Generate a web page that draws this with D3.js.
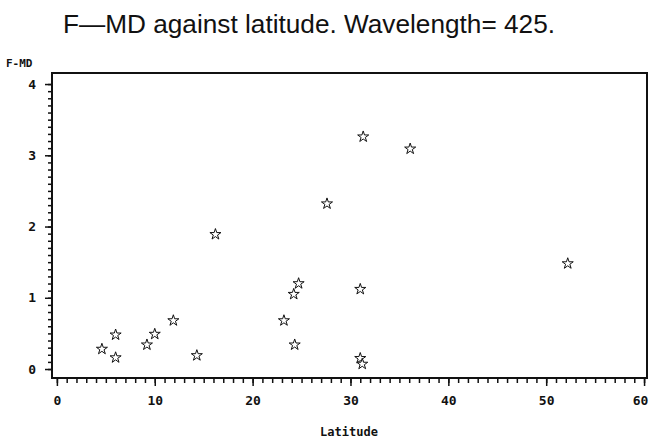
<!DOCTYPE html>
<html>
<head>
<meta charset="utf-8">
<script src="https://cdn.jsdelivr.net/npm/d3@7"></script>
<style>
  body { margin: 0; background: #fff; }
  svg text { fill: #111; }
</style>
</head>
<body>
<svg id="chart"></svg>
<script>
const width = 649;
const height = 438;

// data
const latitude = [4.6, 6.0, 6.0, 9.2, 10.0, 11.9, 14.3, 16.2, 23.2, 24.3, 24.2, 24.7, 27.6, 31.0, 31.0, 31.2, 31.3, 36.1, 52.2];
const fmd      = [0.28, 0.48, 0.16, 0.34, 0.49, 0.68, 0.19, 1.89, 0.68, 0.34, 1.05, 1.20, 2.32, 1.12, 0.15, 0.07, 3.26, 3.09, 1.48];
const xTicks = [0, 10, 20, 30, 40, 50, 60];
const yTicks = [0, 1, 2, 3, 4];

const plotLeft = 52, plotRight = 647, plotTop = 73, plotBottom = 378;

const svg = d3.select('#chart')
            .attr('width', width)
            .attr('height', height);

const x = d3.scaleLinear().domain([-0.5, 60.3]).range([plotLeft, plotRight]);
const y = d3.scaleLinear().domain([-0.126, 4.155]).range([plotBottom, plotTop]);

// title
svg.append('text')
    .attr('x', 309).attr('y', 33)
    .attr('text-anchor', 'middle')
    .attr('textLength', 492)
    .attr('lengthAdjust', 'spacingAndGlyphs')
    .style('font-family', 'Liberation Sans, Arial, sans-serif')
    .style('font-size', '25px')
    .text('F\u2014MD against latitude. Wavelength= 425.');

// frame
svg.append('rect')
    .attr('x', plotLeft).attr('y', plotTop)
    .attr('width', plotRight - plotLeft).attr('height', plotBottom - plotTop)
    .attr('fill', 'none')
    .attr('stroke', '#111')
    .attr('stroke-width', 2);

// minor + major ticks
const xAxis = svg.append('g').attr('transform', `translate(0, ${plotBottom})`);
xAxis.call(d3.axisBottom(x).tickValues(d3.range(0, 61, 1)).tickSize(5).tickFormat(''));
xAxis.append('g').call(d3.axisBottom(x).tickValues(xTicks).tickSize(8).tickPadding(10).tickFormat(d3.format('d')));

const yAxis = svg.append('g').attr('transform', `translate(${plotLeft}, 0)`);
yAxis.call(d3.axisLeft(y).tickValues(d3.range(0, 41).map(d => d / 10)).tickSize(4).tickFormat(''));
yAxis.append('g').call(d3.axisLeft(y).tickValues(yTicks).tickSize(7).tickPadding(9).tickFormat(d3.format('d')));

svg.selectAll('.domain').remove();
svg.selectAll('.tick line').attr('stroke', '#111').attr('stroke-width', 1.5);
svg.selectAll('.tick text')
    .style('font-family', 'DejaVu Sans Mono, monospace')
    .style('font-weight', 'bold')
    .style('font-size', '13px')
    .attr('fill', '#111');

// keep the last x label inside the picture
xAxis.selectAll('.tick text').filter(d => d === 60).attr('dx', '-4');

// axis labels
svg.append('text')
    .attr('x', 6).attr('y', 67)
    .style('font-family', 'DejaVu Sans Mono, monospace')
    .style('font-weight', 'bold')
    .style('font-size', '11px')
    .text('F-MD');

svg.append('text')
    .attr('x', 349).attr('y', 436)
    .attr('text-anchor', 'middle')
    .style('font-family', 'DejaVu Sans Mono, monospace')
    .style('font-weight', 'bold')
    .style('font-size', '12px')
    .text('Latitude');

// points
const star = d3.symbol().type(d3.symbolStar).size(38);
svg.append('g').selectAll('path')
    .data(latitude.map((d, i) => ({lat: d, v: fmd[i]})))
    .join('path')
    .attr('d', star)
    .attr('transform', d => `translate(${x(d.lat)}, ${y(d.v)})`)
    .attr('fill', 'white')
    .attr('stroke', '#111')
    .attr('stroke-width', 1);
</script>
</body>
</html>
